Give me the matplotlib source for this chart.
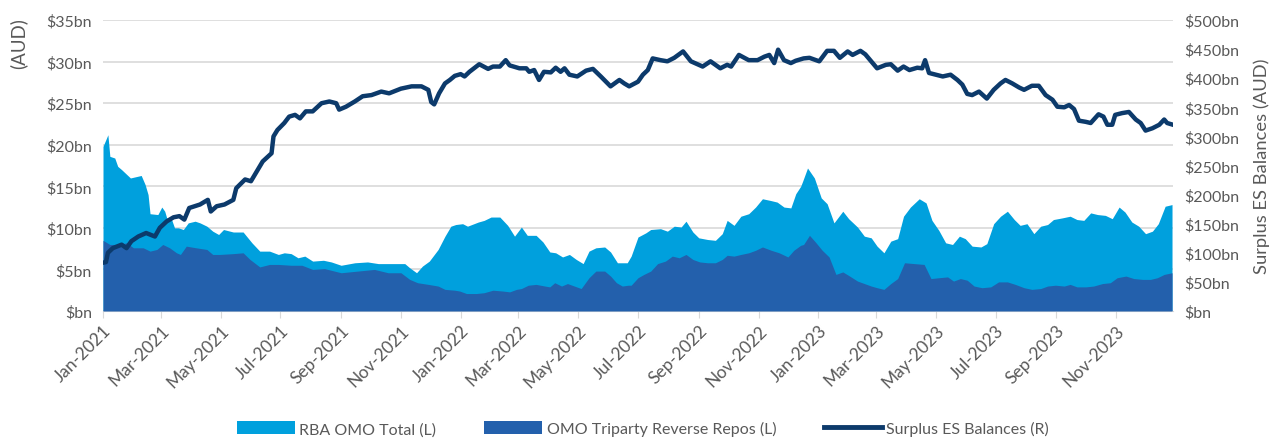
import matplotlib
matplotlib.use("Agg")
import matplotlib.pyplot as plt
import matplotlib.dates as mdates
from matplotlib.patches import Patch
from matplotlib.lines import Line2D
import pandas as pd

# ---------------- data (days since 2021-01-01, values in $bn) ----------------
start_date = "2021-01-01"

total_days = [0, 5, 7, 12, 15, 19, 28, 39, 43, 46, 48, 56, 60, 63, 65, 70, 73, 77, 82, 87, 94, 99, 106, 112, 118,
              123, 133, 143, 152, 160, 170, 179, 185, 192, 199, 206, 214, 225, 233, 243, 257, 270, 281, 294, 308,
              313, 320, 326, 333, 342, 349, 355, 360, 367, 372, 383, 389, 396, 405, 413, 420, 427, 433, 442, 449,
              456, 462, 469, 476, 483, 490, 496, 503, 512, 518, 525, 535, 539, 546, 554, 559, 569, 576, 583, 590,
              595, 602, 608, 617, 625, 632, 637, 644, 651, 659, 666, 673, 681, 688, 695, 702, 707, 712, 714, 719,
              726, 733, 739, 746, 755, 761, 770, 777, 784, 790, 797, 804, 811, 817, 824, 833, 840, 846, 853, 860,
              867, 874, 880, 887, 896, 902, 909, 916, 923, 930, 936, 943, 950, 957, 964, 970, 979, 987, 994, 1001,
              1008, 1015, 1023, 1030, 1037, 1043, 1050, 1057, 1064, 1071, 1077, 1084, 1091]
total_vals = [19.8, 21.2, 18.6, 18.4, 17.4, 17.0, 16.0, 16.3, 15.2, 14.0, 11.7, 11.6, 12.5, 12.0, 11.2, 11.0, 10.0,
              10.0, 9.8, 10.6, 10.8, 10.6, 10.2, 9.6, 9.2, 9.8, 9.5, 9.5, 8.2, 7.2, 7.2, 6.8, 7.0, 6.9, 6.4, 6.6,
              6.0, 6.1, 5.9, 5.5, 5.8, 5.9, 5.7, 5.7, 5.7, 5.2, 4.6, 5.4, 6.0, 7.4, 9.0, 10.2, 10.4, 10.5, 10.2,
              10.7, 10.9, 11.3, 11.3, 10.3, 9.0, 10.1, 9.1, 9.1, 8.3, 7.1, 7.0, 6.5, 6.8, 6.2, 5.7, 7.2, 7.6, 7.7,
              7.1, 5.8, 5.8, 6.6, 8.9, 9.4, 9.8, 9.9, 9.6, 10.2, 10.1, 10.8, 9.5, 8.8, 8.6, 8.5, 9.3, 10.9, 10.3,
              11.4, 11.7, 12.5, 13.5, 13.3, 13.1, 12.5, 12.4, 14.1, 15.0, 15.6, 17.2, 16.0, 13.6, 12.9, 10.6, 12.0,
              11.1, 10.1, 9.0, 8.8, 7.8, 7.0, 8.4, 8.7, 11.4, 12.5, 13.5, 13.0, 10.9, 9.7, 8.2, 8.0, 9.0, 8.7, 7.8,
              7.7, 8.1, 10.5, 11.4, 12.0, 11.0, 10.3, 10.5, 9.3, 10.2, 10.4, 11.0, 11.2, 11.4, 11.0, 10.9, 11.8,
              11.6, 11.5, 11.1, 12.5, 11.9, 10.7, 10.2, 9.3, 9.6, 10.5, 12.6, 12.8]

repo_days = [0, 7, 17, 24, 31, 41, 48, 55, 61, 68, 75, 79, 85, 95, 106, 112, 119, 133, 143, 150, 160, 170, 179,
             192, 203, 214, 226, 243, 260, 277, 291, 304, 313, 321, 332, 342, 349, 359, 364, 371, 381, 389, 398,
             408, 415, 422, 427, 434, 442, 451, 456, 461, 468, 474, 481, 488, 496, 503, 512, 518, 524, 530, 536,
             539, 546, 552, 559, 566, 574, 581, 588, 595, 602, 609, 617, 625, 632, 637, 644, 651, 659, 666, 673,
             682, 690, 699, 705, 712, 715, 721, 727, 734, 741, 748, 755, 762, 770, 777, 784, 790, 797, 804, 811,
             818, 828, 838, 845, 853, 862, 868, 875, 882, 889, 897, 906, 914, 923, 931, 940, 948, 957, 964, 972,
             981, 987, 994, 1003, 1011, 1020, 1028, 1035, 1044, 1052, 1061, 1069, 1076, 1083, 1091]
repo_vals = [8.5, 8.0, 8.0, 8.2, 7.6, 7.6, 7.2, 7.4, 8.0, 7.6, 7.0, 6.8, 7.8, 7.6, 7.4, 6.8, 6.8, 6.9, 7.0, 6.2,
             5.3, 5.6, 5.6, 5.5, 5.5, 5.0, 5.1, 4.6, 4.8, 5.0, 4.6, 4.6, 3.8, 3.4, 3.2, 3.0, 2.6, 2.5, 2.4, 2.1,
             2.1, 2.2, 2.5, 2.4, 2.3, 2.6, 2.7, 3.1, 3.2, 3.0, 2.9, 3.4, 3.0, 3.3, 3.0, 2.7, 4.0, 4.8, 4.8, 4.2,
             3.4, 3.0, 3.1, 3.1, 4.0, 4.4, 4.8, 5.7, 6.0, 6.6, 6.4, 6.8, 6.2, 5.9, 5.8, 5.8, 6.2, 6.7, 6.6, 6.8,
             7.0, 7.3, 7.7, 7.3, 7.0, 6.5, 7.3, 7.9, 8.0, 9.1, 8.3, 7.3, 6.5, 4.4, 4.7, 4.2, 3.6, 3.3, 3.0, 2.8,
             2.6, 3.3, 3.9, 5.8, 5.7, 5.6, 3.9, 4.0, 4.1, 3.6, 3.9, 3.7, 3.0, 2.8, 2.9, 3.5, 3.5, 3.2, 2.8, 2.6,
             2.7, 3.0, 3.1, 3.0, 3.2, 2.9, 2.9, 3.0, 3.3, 3.4, 4.0, 4.2, 3.9, 3.8, 3.8, 4.0, 4.4, 4.6]

es_days = [0, 3, 5, 10, 19, 24, 29, 36, 44, 53, 58, 65, 72, 78, 83, 88, 99, 107, 110, 116, 124, 133, 136, 145,
           151, 157, 163, 172, 174, 178, 185, 190, 196, 201, 207, 214, 223, 231, 238, 241, 248, 257, 265, 274,
           284, 292, 304, 315, 325, 332, 335, 338, 343, 349, 354, 359, 365, 369, 374, 384, 393, 398, 405, 411,
           415, 425, 432, 435, 440, 445, 450, 457, 462, 467, 471, 476, 484, 493, 500, 508, 518, 527, 532, 537,
           546, 551, 556, 561, 569, 576, 583, 592, 600, 612, 620, 630, 637, 641, 649, 659, 668, 675, 680, 685,
           689, 695, 702, 707, 715, 721, 731, 739, 746, 752, 760, 765, 773, 778, 784, 790, 799, 804, 811, 817,
           823, 831, 836, 839, 843, 850, 857, 865, 872, 877, 882, 887, 894, 902, 909, 916, 921, 928, 935, 940,
           948, 955, 962, 969, 974, 981, 986, 991, 996, 1003, 1008, 1016, 1021, 1025, 1030, 1033, 1040, 1047,
           1054, 1059, 1064, 1071, 1078, 1083, 1086, 1092]
es_vals = [83, 84, 100, 108, 114, 108, 120, 128, 134, 128, 143, 154, 161, 163, 157, 177, 183, 191, 171, 180, 183,
           191, 211, 226, 223, 240, 257, 271, 300, 311, 323, 334, 337, 331, 343, 343, 357, 360, 357, 346, 351, 360,
           369, 371, 377, 374, 382, 386, 386, 380, 359, 355, 374, 391, 397, 404, 407, 403, 411, 424, 416, 420, 420,
           431, 422, 417, 417, 411, 414, 397, 411, 410, 418, 411, 417, 406, 403, 413, 416, 403, 386, 397, 391, 386,
           394, 406, 414, 434, 431, 429, 435, 446, 429, 420, 429, 417, 423, 420, 440, 431, 431, 437, 440, 426, 449,
           431, 426, 430, 434, 435, 429, 447, 447, 435, 446, 440, 447, 441, 429, 417, 423, 424, 413, 420, 414, 418,
           417, 431, 409, 406, 403, 406, 397, 389, 373, 371, 377, 365, 380, 391, 397, 391, 384, 380, 387, 387, 371,
           363, 351, 350, 354, 347, 327, 325, 323, 338, 334, 320, 320, 337, 340, 342, 329, 323, 310, 314, 320, 329,
           323, 320]

left_ticks = [0, 5, 10, 15, 20, 25, 30, 35]
right_ticks = [0, 50, 100, 150, 200, 250, 300, 350, 400, 450, 500]
series_names = ["RBA OMO Total (L)", "OMO Triparty Reverse Repos (L)", "Surplus ES Balances (R)"]

# ---------------- styling ----------------
C_LIGHT = "#00A0DD"
C_DARK = "#2360AC"
C_LINE = "#0C3A6B"
C_TEXT = "#595959"
C_GRID = "#D9D9D9"

plt.rcParams["font.family"] = ["Lato", "DejaVu Sans"]

base = pd.Timestamp(start_date)
to_dates = lambda d: [base + pd.Timedelta(days=x) for x in d]
t_total = to_dates(total_days)
t_repo = to_dates(repo_days)
t_es = to_dates(es_days)

fig = plt.figure(figsize=(12.81, 4.39), dpi=100)
ax = fig.add_axes([103 / 1281, 1 - 312 / 439, (1173 - 103) / 1281, (312 - 21) / 439])
ax2 = ax.twinx()

ax.fill_between(t_total, 0, total_vals, color=C_LIGHT, linewidth=0, zorder=2)
ax.fill_between(t_repo, 0, repo_vals, color=C_DARK, linewidth=0, zorder=3)
ax2.plot(t_es, es_vals, color=C_LINE, linewidth=3.2, solid_joinstyle="round", zorder=4)

ax.set_xlim(pd.Timestamp("2021-01-01"), pd.Timestamp("2023-12-29"))
ax.set_ylim(0, 35)
ax2.set_ylim(0, 500)
ax.set_yticks(left_ticks)
ax.set_yticklabels([f"${v}bn" if v else "$bn" for v in left_ticks])
ax2.set_yticks(right_ticks)
ax2.set_yticklabels([f"${v}bn" if v else "$bn" for v in right_ticks])

ax.grid(axis="y", color=C_GRID, linewidth=1.2, zorder=0)
ax.set_axisbelow(True)
for a in (ax, ax2):
    for s in ("top", "left", "right", "bottom"):
        a.spines[s].set_visible(False)
ax.spines["bottom"].set_visible(True)
ax.spines["bottom"].set_color(C_GRID)

ax.xaxis.set_major_locator(mdates.MonthLocator(bymonth=[1, 3, 5, 7, 9, 11]))
ax.xaxis.set_major_formatter(mdates.DateFormatter("%b-%Y"))
ax.tick_params(axis="x", colors=C_TEXT, labelsize=12.5, length=5, color=C_GRID, pad=3)
for lbl in ax.get_xticklabels():
    lbl.set_rotation(45)
    lbl.set_ha("right")
    lbl.set_rotation_mode("anchor")
ax.tick_params(axis="y", colors=C_TEXT, labelsize=11.5, length=0, pad=8)
ax2.tick_params(axis="y", colors=C_TEXT, labelsize=11.5, length=0, pad=8)

fig.text(18 / 1281, 1 - 44 / 439, "(AUD)", rotation=90, ha="center", va="center",
         color=C_TEXT, fontsize=13.5)
ax2.set_ylabel("Surplus ES Balances (AUD)", color=C_TEXT, fontsize=13.2, labelpad=10)

handles = [Patch(facecolor=C_LIGHT, edgecolor="none"),
           Patch(facecolor=C_DARK, edgecolor="none"),
           Line2D([0], [0], color=C_LINE, linewidth=3.5)]
leg = fig.legend(handles, series_names, loc="center", bbox_to_anchor=(0.502, 0.021), ncol=3,
                 frameon=False, fontsize=11.5, handlelength=3.6, handleheight=0.9, columnspacing=3.0,
                 handletextpad=0.3)
for t in leg.get_texts():
    t.set_color(C_TEXT)

fig.savefig("out.png", dpi=100)
